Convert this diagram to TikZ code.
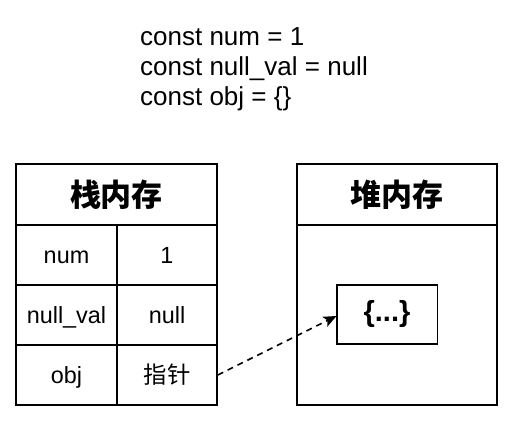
\documentclass[tikz,border=0pt]{standalone}
\usepackage{fontspec}
\setmainfont{Liberation Sans}
\newfontfamily\cjk{Noto Sans CJK SC}
\usetikzlibrary{arrows.meta}
\begin{document}
\begin{tikzpicture}[x=1pt,y=-1pt,
  box/.style={draw=black,line width=1.6pt},
  celltxt/.style={font=\fontsize{23.4}{28}\selectfont,inner sep=0pt,text height=16pt,text depth=0pt},
  headtxt/.style={font=\fontsize{31}{36}\selectfont\cjk\bfseries,inner sep=0pt},
  codetxt/.style={font=\fontsize{26}{30}\selectfont,inner sep=0pt,anchor=west,text height=18pt,text depth=0pt},
  ptr/.style={line width=1.6pt,dash pattern=on 6pt off 5pt,-{Stealth[length=13pt,width=11pt,inset=3pt]}}]
\useasboundingbox (0,0) rectangle (512,428);
% code
\node[codetxt] (c1) at (140,37) {const num = 1};
\node[codetxt] (c2) at (140,67) {const null\_val = null};
\node[codetxt] (c3) at (140,97) {const obj = \{\}};
% stack
\node[box,minimum width=201pt,minimum height=61pt,inner sep=0pt] (sh) at (116.5,194.5) {};
\node[headtxt] (sht) at (sh) {栈内存};
\node[box,minimum width=101pt,minimum height=60pt] (k1) at (66.5,255) {};
\node[box,minimum width=100pt,minimum height=60pt] (v1) at (167,255) {};
\node[box,minimum width=101pt,minimum height=60pt] (k2) at (66.5,315) {};
\node[box,minimum width=100pt,minimum height=60pt] (v2) at (167,315) {};
\node[box,minimum width=101pt,minimum height=60pt] (k3) at (66.5,375) {};
\node[box,minimum width=100pt,minimum height=60pt] (v3) at (167,375) {};
\node[celltxt] at (k1) {num};
\node[celltxt] at (v1) {1};
\node[celltxt] at (k2) {null\_val};
\node[celltxt] at (v2) {null};
\node[celltxt] at (k3) {obj};
\node[celltxt,font=\fontsize{23.4}{28}\selectfont\cjk] at (v3) {指针};
% heap
\node[box,minimum width=200pt,minimum height=61pt,inner sep=0pt] (hh) at (396.7,194.5) {};
\node[headtxt] (hht) at (hh) {堆内存};
\node[box,minimum width=200pt,minimum height=180pt] (hb) at (396.7,315) {};
\node[box,minimum width=100.6pt,minimum height=59pt] (obj) at (387,314.5) {};
\node[inner sep=0pt,font=\fontsize{29}{34}\selectfont\bfseries] at (obj) {\{...\}};
% pointer
\coordinate (pe) at (336.5,316);
\draw[ptr] (v3.east) -- (pe);
\end{tikzpicture}
\end{document}
